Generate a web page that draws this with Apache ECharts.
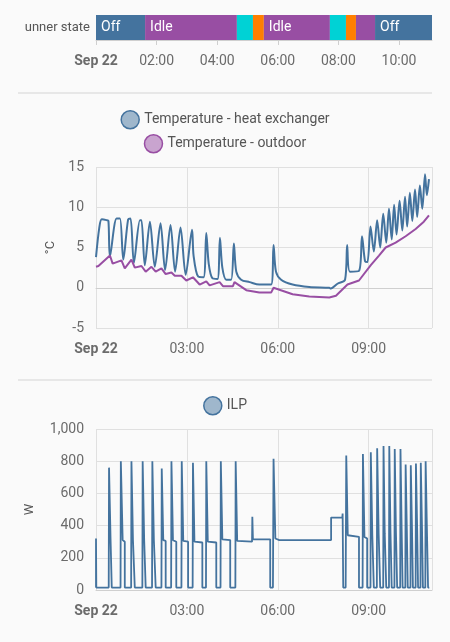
<!DOCTYPE html>
<html>
<head>
<meta charset="utf-8">
<script src="https://cdn.jsdelivr.net/npm/echarts@6/dist/echarts.min.js"></script>
<style>
  html, body { margin: 0; padding: 0; background: #fafafa; }
  #chart { width: 450px; height: 642px; }
</style>
</head>
<body>
<div id="chart"></div>
<script>
// times are hours after Sep 22 00:00
var stateNames = ['Off', 'Idle', '', '', 'Idle', '', '', '', 'Off'];
var stateColors = ['#44739e', '#984ea3', '#00d2d5', '#ff7f00', '#984ea3', '#00d2d5', '#ff7f00', '#984ea3', '#44739e'];
var stateStart = [0, 1.62, 4.65, 5.18, 5.54, 7.72, 8.25, 8.58, 9.21];
var stateEnd = [1.62, 4.65, 5.18, 5.54, 7.72, 8.25, 8.58, 9.21, 11.09];

var heatExchanger = [
  [0, 3.8], [0.11, 7.5], [0.19, 8.5], [0.35, 8.4], [0.41, 8.3], [0.46, 3.9],
  [0.68, 8.6], [0.79, 8.6], [0.90, 3.5], [1.06, 8.5], [1.14, 8.6], [1.25, 3.1],
  [1.45, 8.4], [1.50, 8.4], [1.61, 2.8], [1.78, 8.2], [1.94, 2.6], [2.13, 8.0],
  [2.28, 2.2], [2.46, 7.8], [2.61, 2.0], [2.79, 7.5], [2.96, 1.6], [3.17, 7.2],
  [3.22, 4.0], [3.37, 1.4], [3.55, 1.3], [3.64, 6.8], [3.72, 3.0], [3.84, 1.2],
  [4.01, 1.1], [4.09, 6.2], [4.17, 2.5], [4.30, 1.0], [4.46, 1.0], [4.55, 5.5],
  [4.63, 2.0], [4.79, 1.0], [5.07, 0.7], [5.39, 0.4], [5.78, 0.4], [5.86, 5.3],
  [5.94, 2.0], [6.11, 1.0], [6.49, 0.4], [7.04, 0.1], [7.70, 0.0], [7.75, -0.1],
  [7.97, 0.5], [8.22, 1.0], [8.29, 5.3], [8.38, 2.0], [8.68, 2.1], [8.78, 6.4],
  [8.88, 3.3], [8.96, 3.2], [9.06, 7.6], [9.17, 4.5], [9.28, 8.4], [9.38, 5.0],
  [9.48, 9.2], [9.58, 5.6], [9.67, 9.8], [9.76, 6.0], [9.84, 10.3], [9.92, 6.6],
  [10.02, 10.8], [10.11, 7.1], [10.20, 11.3], [10.27, 7.6], [10.36, 11.8], [10.44, 8.3],
  [10.53, 12.2], [10.60, 8.8], [10.69, 12.7], [10.77, 9.8], [10.86, 14.1], [10.92, 11.5],
  [10.99, 13.5]
];

var outdoor = [
  [0, 2.6], [0.08, 2.7], [0.46, 4.0], [0.55, 3.0], [0.84, 3.4], [0.95, 2.4],
  [1.17, 3.5], [1.28, 2.5], [1.50, 2.7], [1.64, 2.0], [1.83, 2.6], [1.97, 2.0],
  [2.16, 2.4], [2.30, 1.7], [2.49, 1.9], [2.60, 1.5], [2.82, 1.5], [2.98, 0.9],
  [3.20, 1.3], [3.42, 0.4], [3.64, 0.8], [3.75, 0.3], [4.08, 0.7], [4.19, 0.2],
  [4.52, 0.2], [4.57, 0.7], [4.96, -0.3], [5.39, -0.6], [5.78, -0.6], [5.86, 0.0],
  [6.49, -0.8], [7.04, -1.1], [7.70, -1.2], [7.92, -1.0], [8.30, 0.4], [8.68, 0.9],
  [9.07, 2.8], [9.34, 4.0], [9.56, 5.0], [9.89, 5.6], [10.22, 6.4], [10.55, 7.3],
  [10.82, 8.2], [10.99, 9.0]
];

var ilp = [
  [0, 15], [0, 320], [0.01, 15],
  [0.42, 15], [0.43, 760], [0.48, 320], [0.52, 310], [0.52, 15],
  [0.81, 15], [0.82, 800], [0.88, 310], [0.95, 300], [0.95, 15],
  [1.16, 15], [1.17, 800], [1.22, 310], [1.28, 300], [1.28, 15],
  [1.53, 15], [1.54, 800], [1.59, 310], [1.64, 300], [1.64, 15],
  [1.85, 15], [1.86, 800], [1.91, 310], [1.97, 305], [1.97, 15],
  [2.16, 15], [2.17, 755], [2.22, 310], [2.30, 305], [2.30, 15],
  [2.48, 15], [2.49, 800], [2.54, 310], [2.65, 300], [2.65, 15],
  [2.82, 15], [2.83, 800], [2.88, 305], [3.04, 300], [3.04, 15],
  [3.19, 15], [3.20, 790], [3.25, 300], [3.51, 295], [3.51, 15],
  [3.63, 15], [3.64, 800], [3.69, 300], [3.97, 295], [3.97, 15],
  [4.11, 15], [4.12, 800], [4.17, 315], [4.43, 310], [4.43, 15],
  [4.60, 15], [4.61, 800], [4.66, 305], [5.15, 300], [5.16, 455], [5.18, 315], [5.75, 315], [5.75, 15],
  [5.84, 15], [5.86, 815], [5.92, 320], [6.05, 310], [7.76, 310], [7.76, 450], [8.13, 450],
  [8.14, 475], [8.16, 475], [8.16, 15],
  [8.24, 15], [8.26, 835], [8.31, 340], [8.68, 330], [8.68, 15],
  [8.80, 15], [8.81, 845], [8.86, 330], [8.95, 320], [8.95, 15],
  [9.06, 15], [9.07, 855], [9.12, 340], [9.17, 330], [9.17, 15],
  [9.27, 15], [9.28, 880], [9.33, 345], [9.38, 340], [9.38, 15],
  [9.48, 15], [9.49, 895], [9.53, 350], [9.58, 345], [9.58, 15],
  [9.67, 15], [9.68, 895], [9.72, 355], [9.76, 350], [9.76, 15],
  [9.85, 15], [9.86, 875], [9.90, 360], [9.94, 350], [9.94, 15],
  [10.04, 15], [10.05, 875], [10.09, 360], [10.12, 355], [10.12, 15],
  [10.21, 15], [10.22, 780], [10.26, 370], [10.29, 360], [10.29, 15],
  [10.38, 15], [10.39, 775], [10.43, 380], [10.46, 370], [10.46, 15],
  [10.55, 15], [10.56, 785], [10.60, 385], [10.63, 375], [10.63, 15],
  [10.71, 15], [10.72, 790], [10.76, 390], [10.79, 380], [10.79, 15],
  [10.87, 15], [10.88, 800], [10.92, 400], [10.96, 390], [10.96, 15], [11.0, 15]
];

var myChart = echarts.init(document.getElementById('chart'));
var font = 'Roboto';
var gray = '#6b6b6b';
var gridLine = { show: true, lineStyle: { color: '#e0e0e0' } };

function pad(n) { return (n < 10 ? '0' : '') + n; }
function timeLabel(v) {
  if (v === 0) return '{b|Sep 22}';
  return pad(v) + ':00';
}
function xAxis(idx, interval, split) {
  return {
    type: 'value', gridIndex: idx, min: 0, max: 11.09, interval: interval,
    axisLine: { show: true, lineStyle: { color: '#cfcfcf' } },
    axisTick: { show: !split, length: 5, lineStyle: { color: '#cfcfcf' } },
    splitLine: split ? gridLine : { show: false },
    axisLabel: {
      formatter: timeLabel, color: gray, fontFamily: font, fontSize: 14, margin: 14,
      showMaxLabel: false,
      rich: { b: { fontWeight: 'bold', color: gray, fontFamily: font, fontSize: 14 } }
    }
  };
}

var option = {
  backgroundColor: '#fafafa',
  animation: false,
  textStyle: { fontFamily: font },
  grid: [
    { left: 96, right: 18, top: 15, height: 25 },
    { left: 96, right: 18, top: 167, height: 161 },
    { left: 96, right: 18, top: 429, height: 161 }
  ],
  legend: [
    {
      top: 105, left: 'center', icon: 'circle', itemWidth: 18, itemHeight: 18,
      textStyle: { color: '#555', fontSize: 14, fontFamily: font },
      data: [{ name: 'Temperature - heat exchanger', itemStyle: { color: 'rgba(68,115,158,0.5)', borderColor: '#44739e', borderWidth: 1.5 } }]
    },
    {
      top: 129, left: 'center', icon: 'circle', itemWidth: 18, itemHeight: 18,
      textStyle: { color: '#555', fontSize: 14, fontFamily: font },
      data: [{ name: 'Temperature - outdoor', itemStyle: { color: 'rgba(152,78,163,0.5)', borderColor: '#984ea3', borderWidth: 1.5 } }]
    },
    {
      top: 391, left: 'center', icon: 'circle', itemWidth: 18, itemHeight: 18,
      textStyle: { color: '#555', fontSize: 14, fontFamily: font },
      data: [{ name: 'ILP', itemStyle: { color: 'rgba(68,115,158,0.5)', borderColor: '#44739e', borderWidth: 1.5 } }]
    }
  ],
  xAxis: [xAxis(0, 2, false), xAxis(1, 3, true), xAxis(2, 3, true)],
  yAxis: [
    {
      type: 'category', gridIndex: 0, data: ['unner state'],
      axisLine: { show: false }, axisTick: { show: false },
      axisLabel: { color: '#555', fontSize: 13, fontFamily: font, margin: 6 }
    },
    {
      type: 'value', gridIndex: 1, min: -5, max: 15, interval: 5,
      name: '°C', nameLocation: 'middle', nameGap: 38,
      nameTextStyle: { color: '#555', fontSize: 13, fontFamily: font },
      axisLine: { show: false }, axisTick: { show: false }, splitLine: gridLine,
      axisLabel: { color: gray, fontSize: 14, fontFamily: font, margin: 12 }
    },
    {
      type: 'value', gridIndex: 2, min: 0, max: 1000, interval: 200,
      name: 'W', nameLocation: 'middle', nameGap: 60,
      nameTextStyle: { color: '#555', fontSize: 13, fontFamily: font },
      axisLine: { show: false }, axisTick: { show: false }, splitLine: gridLine,
      axisLabel: {
        color: gray, fontSize: 14, fontFamily: font, margin: 12,
        formatter: function (v) { return v.toLocaleString('en-US'); }
      }
    }
  ],
  graphic: [
    { type: 'line', shape: { x1: 18, y1: 93, x2: 432, y2: 93 }, style: { stroke: '#e0e0e0', lineWidth: 1.5 } },
    { type: 'line', shape: { x1: 18, y1: 380, x2: 432, y2: 380 }, style: { stroke: '#e0e0e0', lineWidth: 1.5 } }
  ],
  series: [
    {
      type: 'custom', xAxisIndex: 0, yAxisIndex: 0,
      data: stateStart.map(function (s, i) { return [s, stateEnd[i], 0, i]; }),
      encode: { x: [0, 1], y: 2 },
      renderItem: function (params, api) {
        var i = api.value(3);
        var p0 = api.coord([api.value(0), 0]);
        var p1 = api.coord([api.value(1), 0]);
        var h = api.size([0, 1])[1];
        return {
          type: 'group',
          children: [
            { type: 'rect', shape: { x: p0[0], y: p0[1] - h / 2, width: p1[0] - p0[0], height: h }, style: { fill: stateColors[i] } },
            { type: 'text', style: { x: p0[0] + 5, y: p0[1], text: stateNames[i], fill: '#fff', fontSize: 14, fontFamily: font, verticalAlign: 'middle' } }
          ]
        };
      }
    },
    {
      name: 'Temperature - heat exchanger', type: 'line', xAxisIndex: 1, yAxisIndex: 1,
      data: heatExchanger, showSymbol: false, smooth: 0.3, color: '#44739e', lineStyle: { width: 2 }
    },
    {
      name: 'Temperature - outdoor', type: 'line', xAxisIndex: 1, yAxisIndex: 1,
      data: outdoor, showSymbol: false, color: '#984ea3', lineStyle: { width: 2 }
    },
    {
      name: 'ILP', type: 'line', xAxisIndex: 2, yAxisIndex: 2,
      data: ilp, showSymbol: false, color: '#44739e', lineStyle: { width: 1.8 }
    }
  ]
};

myChart.setOption(option);
window.addEventListener('resize', () => { myChart.resize() });
</script>
</body>
</html>
